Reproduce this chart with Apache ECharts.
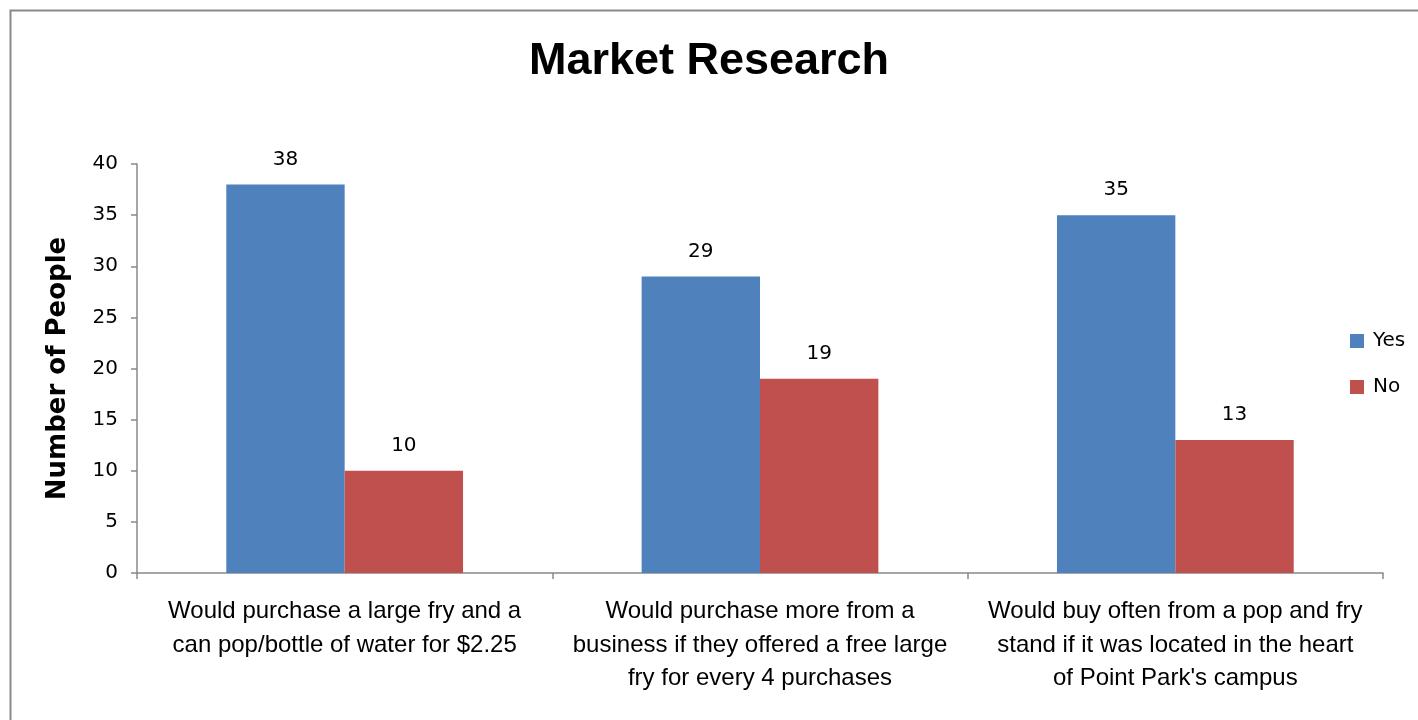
<!DOCTYPE html>
<html><head><meta charset="utf-8">
<script src="https://cdn.jsdelivr.net/npm/echarts@6/dist/echarts.min.js"></script>
<style>html,body{margin:0;padding:0;background:#fff}#c{width:1418px;height:720px}</style>
</head><body><div id="c"></div>
<script>
const categories = [
  "Would purchase a large fry and a\ncan pop/bottle of water for $2.25",
  "Would purchase more from a\nbusiness if they offered a free large\nfry for every 4 purchases",
  "Would buy often from a pop and fry\nstand if it was located in the heart\nof Point Park's campus"
];
const yesValues = [38, 29, 35];
const noValues = [10, 19, 13];
const seriesNames = ["Yes", "No"];

const chart = echarts.init(document.getElementById('c'));
const labelStyle = {show: true, position: 'top', distance: 15, fontFamily: 'DejaVu Sans', fontSize: 20, color: '#000'};
chart.setOption({
  animation: false,
  title: {text: 'Market Research', left: 'center', top: 34,
    textStyle: {fontFamily: 'Liberation Sans', fontWeight: 'bold', fontSize: 45, color: '#000'}},
  graphic: [{type: 'rect', shape: {x: 10.5, y: 10.5, width: 1430, height: 730},
    style: {fill: 'none', stroke: '#898989', lineWidth: 2}, silent: true}],
  legend: {orient: 'vertical', left: 1345, top: 326, itemGap: 26, itemWidth: 14, itemHeight: 14,
    icon: 'rect', data: seriesNames,
    textStyle: {fontFamily: 'DejaVu Sans', fontSize: 20, color: '#000', padding: [0,0,0,4]}},
  grid: {left: 137, right: 35, top: 164, bottom: 147},
  xAxis: {type: 'category', data: categories,
    axisLine: {lineStyle: {color: '#898989', width: 1.5}},
    axisTick: {show: true, length: 6, lineStyle: {color: '#898989', width: 1.5}},
    axisLabel: {interval: 0, margin: 22, lineHeight: 33.5, fontFamily: 'Liberation Sans', fontSize: 24, color: '#000'}},
  yAxis: {type: 'value', min: 0, max: 40, interval: 5,
    name: 'Number of People', nameLocation: 'middle', nameGap: 66,
    nameTextStyle: {fontFamily: 'DejaVu Sans', fontWeight: 'bold', fontSize: 26, color: '#000'},
    axisLine: {show: true, lineStyle: {color: '#898989', width: 1.5}},
    axisTick: {show: true, length: 6, lineStyle: {color: '#898989', width: 1.5}},
    splitLine: {show: false},
    axisLabel: {margin: 19, fontFamily: 'DejaVu Sans', fontSize: 20, color: '#000'}},
  series: [
    {name: seriesNames[0], type: 'bar', data: yesValues, barGap: '0%', barCategoryGap: '43%',
      itemStyle: {color: '#4F81BD'}, label: labelStyle},
    {name: seriesNames[1], type: 'bar', data: noValues, barGap: '0%', barCategoryGap: '43%',
      itemStyle: {color: '#C0504D'}, label: labelStyle}
  ]
});
</script></body></html>
